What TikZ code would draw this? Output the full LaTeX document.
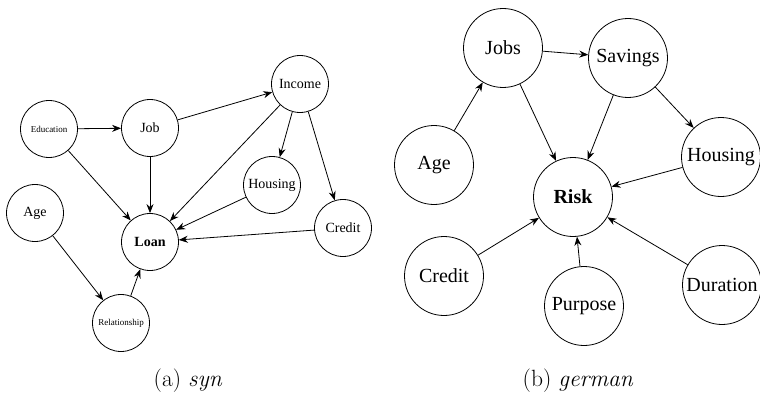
\documentclass[tikz,border=0pt]{standalone}
\usepackage{fontspec}
\newfontfamily\nodefont{Liberation Serif}
\usetikzlibrary{arrows.meta}
\newcommand{\DS}{57pt}
\newcommand{\DG}{79pt}

\begin{document}
\begin{tikzpicture}[x=1pt,y=-1pt,
    var/.style={draw,circle,inner sep=0pt,line width=0.8pt},
    svar/.style={var,minimum size=\DS,font=\nodefont\fontsize{14}{16}\selectfont},
    gvar/.style={var,minimum size=\DG,font=\nodefont\fontsize{20}{22}\selectfont},
    tiny/.style={font=\nodefont\fontsize{9}{10}\selectfont},
    edge/.style={-{Stealth[length=9pt,width=7pt]},line width=0.8pt}]
        \useasboundingbox (0,0) rectangle (760,396);

        % syn
        \path (49,129)  node[svar,tiny] (E) {Education};
        \path (150,128) node[svar] (J) {Job};
        \path (300,84)  node[svar] (I) {Income};
        \path (272,185) node[svar] (H) {Housing};
        \path (35,213)  node[svar] (A) {Age};
        \path (150,242) node[svar] (L) {\bfseries Loan};
        \path (343,228) node[svar] (C) {Credit};
        \path (121,323) node[svar,tiny] (R) {Relationship};

        \draw [edge] (E) -- (J);
        \draw [edge] (E) -- (L);
        \draw [edge] (J) -- (L);
        \draw [edge] (J) -- (I);
        \draw [edge] (I) -- (L);
        \draw [edge] (I) -- (H);
        \draw [edge] (I) -- (C);
        \draw [edge] (H) -- (L);
        \draw [edge] (C) -- (L);
        \draw [edge] (A) -- (R);
        \draw [edge] (R) -- (L);

        % german
        \path (503,48)  node[gvar] (G1) {Jobs};
        \path (628,58)  node[gvar] (G2) {Savings};
        \path (434,165) node[gvar] (G3) {Age};
        \path (573,197) node[gvar] (G4) {\bfseries Risk};
        \path (721,157) node[gvar] (G5) {Housing};
        \path (444,276) node[gvar] (G6) {Credit};
        \path (584,306) node[gvar] (G7) {Purpose};
        \path (722,285) node[gvar] (G8) {Duration};

        \draw [edge] (G3) -- (G1);
        \draw [edge] (G1) -- (G2);
        \draw [edge] (G1) -- (G4);
        \draw [edge] (G2) -- (G4);
        \draw [edge] (G2) -- (G5);
        \draw [edge] (G5) -- (G4);
        \draw [edge] (G6) -- (G4);
        \draw [edge] (G7) -- (G4);
        \draw [edge] (G8) -- (G4);

        \path (188,381) node (CA) {\fontsize{23.5}{27}\selectfont (a) \textit{syn}};
        \path (578,381) node (CB) {\fontsize{23.5}{27}\selectfont (b) \textit{german}};

    \end{tikzpicture}
\end{document}
